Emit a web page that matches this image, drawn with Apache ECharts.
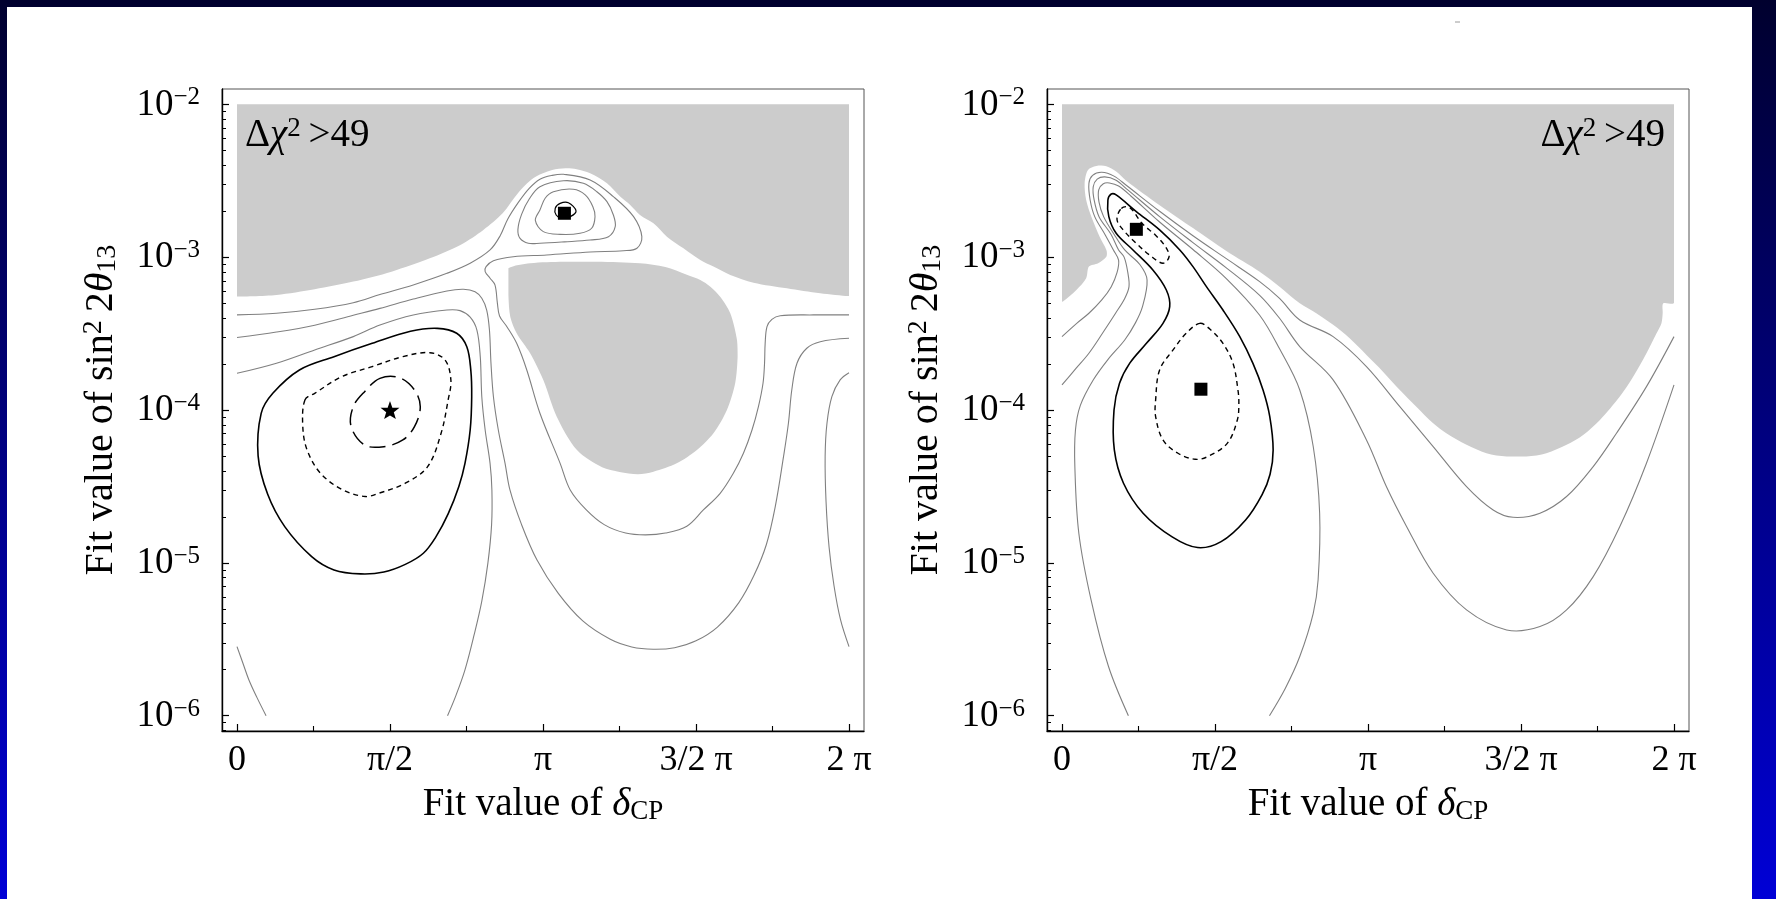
<!DOCTYPE html>
<html>
<head>
<meta charset="utf-8">
<script src="https://cdn.jsdelivr.net/npm/echarts@6/dist/echarts.min.js"></script>
<style>
  html, body { margin: 0; padding: 0; background: #ffffff; }
  #chart { width: 1776px; height: 899px; }
</style>
</head>
<body>
<div id="chart"></div>
<script>
// Fit results in the (δCP, sin²2θ13) plane.
// Every point is [δCP / π, log10(sin²2θ13)].

// ---- axis ticks ----
const deltaLabelTicks = [0, 0.5, 1, 1.5, 2];
const deltaLabels = ['0', 'π/2', 'π', '3/2 π', '2 π'];
const deltaMinorTicks = [0.25, 0.75, 1.25, 1.75];
const decadeTicks = [-6, -5, -4, -3, -2];
const mantissas = [2, 3, 4, 5, 6, 7, 8, 9];

// ---- left panel ----
const vetoUpperL = [[0,-2],[2,-2],[2,-3.254],[1.906,-3.237],[1.797,-3.204],[1.688,-3.167],[1.612,-3.117],[1.557,-3.062],[1.514,-3.019],[1.459,-2.942],[1.405,-2.866],[1.361,-2.779],[1.317,-2.724],[1.285,-2.659],[1.252,-2.604],[1.209,-2.517],[1.154,-2.451],[1.110,-2.425],[1.074,-2.419],[1.030,-2.430],[0.968,-2.484],[0.918,-2.582],[0.868,-2.713],[0.805,-2.822],[0.730,-2.920],[0.630,-3.008],[0.505,-3.095],[0.380,-3.160],[0.254,-3.210],[0.129,-3.247],[0,-3.258]];
const vetoIslandL = [[0.887,-3.073],[0.958,-3.040],[1.067,-3.030],[1.176,-3.030],[1.317,-3.040],[1.400,-3.065],[1.470,-3.115],[1.514,-3.149],[1.547,-3.193],[1.579,-3.259],[1.612,-3.367],[1.634,-3.542],[1.636,-3.651],[1.628,-3.825],[1.601,-4.000],[1.557,-4.152],[1.503,-4.262],[1.437,-4.349],[1.361,-4.404],[1.310,-4.420],[1.250,-4.405],[1.193,-4.375],[1.111,-4.262],[1.045,-4.044],[1.001,-3.804],[0.958,-3.629],[0.914,-3.498],[0.893,-3.390],[0.887,-3.250],[0.887,-3.128]];

const contourBL = [[0,-3.378],[0.129,-3.367],[0.254,-3.341],[0.380,-3.298],[0.467,-3.245],[0.576,-3.182],[0.686,-3.106],[0.762,-3.040],[0.827,-2.953],[0.860,-2.860],[0.885,-2.750],[0.920,-2.640],[0.955,-2.550],[0.990,-2.490],[1.030,-2.465],[1.067,-2.458],[1.154,-2.495],[1.230,-2.604],[1.296,-2.735],[1.323,-2.866],[1.307,-2.942],[1.263,-2.958],[1.154,-2.966],[1.012,-2.986],[0.903,-2.997],[0.838,-3.023],[0.814,-3.062],[0.811,-3.095],[0.827,-3.138],[0.843,-3.182],[0.851,-3.302],[0.858,-3.385],[0.882,-3.455],[0.914,-3.564],[0.947,-3.738],[0.990,-4.021],[1.056,-4.349],[1.089,-4.523],[1.140,-4.650],[1.200,-4.750],[1.270,-4.805],[1.335,-4.817],[1.400,-4.805],[1.470,-4.760],[1.524,-4.654],[1.579,-4.545],[1.622,-4.414],[1.655,-4.283],[1.683,-4.131],[1.704,-3.978],[1.719,-3.825],[1.724,-3.694],[1.726,-3.564],[1.732,-3.455],[1.748,-3.407],[1.775,-3.383],[1.884,-3.378],[2,-3.378]];
const contourCL = [[0,-3.526],[0.129,-3.490],[0.254,-3.445],[0.380,-3.380],[0.467,-3.335],[0.576,-3.274],[0.686,-3.221],[0.740,-3.210],[0.778,-3.226],[0.800,-3.269],[0.816,-3.346],[0.825,-3.477],[0.830,-3.694],[0.838,-3.913],[0.854,-4.131],[0.876,-4.349],[0.892,-4.523],[0.930,-4.750],[0.980,-4.980],[1.050,-5.200],[1.130,-5.380],[1.220,-5.500],[1.290,-5.550],[1.360,-5.565],[1.430,-5.555],[1.500,-5.510],[1.570,-5.420],[1.640,-5.260],[1.690,-5.080],[1.730,-4.880],[1.759,-4.632],[1.786,-4.305],[1.802,-4.087],[1.813,-3.869],[1.830,-3.694],[1.862,-3.596],[1.906,-3.553],[2,-3.531]];
const contourAL = [[0,-3.760],[0.129,-3.694],[0.254,-3.607],[0.380,-3.520],[0.467,-3.444],[0.576,-3.378],[0.686,-3.346],[0.729,-3.350],[0.762,-3.393],[0.784,-3.477],[0.795,-3.651],[0.800,-3.913],[0.811,-4.131],[0.827,-4.349],[0.833,-4.523],[0.832,-4.750],[0.820,-5.000],[0.800,-5.250],[0.775,-5.470],[0.745,-5.700],[0.715,-5.870],[0.688,-6.000]];
const contourEdgeRL = [[2,-3.756],[1.971,-3.803],[1.944,-3.913],[1.928,-4.087],[1.922,-4.305],[1.925,-4.600],[1.935,-4.900],[1.951,-5.150],[1.972,-5.370],[2,-5.548]];
const contourEdgeLL = [[0,-5.548],[0.020,-5.660],[0.039,-5.766],[0.065,-5.880],[0.095,-6.000]];
const peakLoop1L = [[0.975,-2.760],[0.990,-2.692],[1.007,-2.615],[1.034,-2.572],[1.099,-2.556],[1.138,-2.593],[1.163,-2.670],[1.170,-2.735],[1.159,-2.811],[1.121,-2.844],[1.056,-2.851],[1.001,-2.833]];
const peakLoop2L = [[0.990,-2.539],[1.067,-2.500],[1.132,-2.517],[1.176,-2.572],[1.209,-2.637],[1.230,-2.724],[1.236,-2.801],[1.214,-2.866],[1.154,-2.888],[1.070,-2.900],[0.990,-2.909],[0.952,-2.909],[0.925,-2.877],[0.918,-2.820],[0.930,-2.720],[0.955,-2.620]];
const peakCoreL = [[1.040,-2.680],[1.056,-2.648],[1.083,-2.644],[1.108,-2.698],[1.089,-2.735],[1.061,-2.746],[1.043,-2.724]];
const sigma3L = [[0.069,-4.300],[0.079,-4.022],[0.117,-3.891],[0.204,-3.738],[0.317,-3.651],[0.442,-3.564],[0.567,-3.485],[0.655,-3.466],[0.718,-3.498],[0.751,-3.586],[0.764,-3.738],[0.767,-3.913],[0.762,-4.131],[0.745,-4.349],[0.725,-4.500],[0.690,-4.680],[0.650,-4.830],[0.609,-4.937],[0.550,-5.010],[0.480,-5.060],[0.404,-5.072],[0.317,-5.046],[0.244,-4.959],[0.156,-4.763],[0.100,-4.550]];
const sigma2L = [[0.222,-3.934],[0.254,-3.891],[0.342,-3.782],[0.442,-3.716],[0.542,-3.651],[0.630,-3.625],[0.680,-3.673],[0.699,-3.804],[0.690,-3.934],[0.667,-4.152],[0.623,-4.370],[0.550,-4.479],[0.463,-4.545],[0.419,-4.566],[0.346,-4.523],[0.273,-4.414],[0.229,-4.261],[0.215,-4.108]];
const sigma1L = [[0.467,-3.793],[0.530,-3.788],[0.580,-3.869],[0.599,-3.978],[0.580,-4.109],[0.542,-4.196],[0.480,-4.240],[0.417,-4.229],[0.373,-4.109],[0.380,-3.978],[0.417,-3.880]];
const trueValueL = [[0.5, -4.0]];
const clonesL = [[1.07, -2.713]];

// ---- right panel ----
const vetoR = [[0,-2],[2,-2],[2,-3.297],[1.965,-3.302],[1.963,-3.367],[1.959,-3.432],[1.943,-3.498],[1.910,-3.629],[1.867,-3.781],[1.823,-3.912],[1.758,-4.065],[1.703,-4.163],[1.649,-4.228],[1.583,-4.283],[1.518,-4.305],[1.453,-4.305],[1.387,-4.283],[1.322,-4.228],[1.256,-4.152],[1.213,-4.087],[1.158,-3.978],[1.104,-3.869],[1.049,-3.749],[0.995,-3.640],[0.940,-3.531],[0.886,-3.443],[0.831,-3.367],[0.777,-3.302],[0.711,-3.193],[0.646,-3.095],[0.537,-2.960],[0.428,-2.810],[0.319,-2.660],[0.210,-2.500],[0.177,-2.440],[0.145,-2.405],[0.112,-2.404],[0.085,-2.430],[0.074,-2.517],[0.079,-2.626],[0.096,-2.735],[0.123,-2.866],[0.145,-2.953],[0.145,-2.997],[0.118,-3.040],[0.088,-3.062],[0.079,-3.138],[0.047,-3.215],[0.003,-3.291],[0,-3.291]];
const contour1R = [[0,-3.520],[0.050,-3.430],[0.088,-3.367],[0.130,-3.280],[0.161,-3.193],[0.180,-3.100],[0.185,-3.020],[0.168,-2.953],[0.140,-2.850],[0.107,-2.735],[0.092,-2.626],[0.088,-2.517],[0.100,-2.465],[0.130,-2.445],[0.170,-2.470],[0.210,-2.530],[0.319,-2.700],[0.428,-2.860],[0.537,-3.010],[0.646,-3.160],[0.711,-3.270],[0.777,-3.411],[0.886,-3.520],[0.995,-3.716],[1.104,-3.978],[1.213,-4.239],[1.322,-4.501],[1.409,-4.654],[1.474,-4.702],[1.562,-4.675],[1.649,-4.566],[1.736,-4.370],[1.812,-4.152],[1.910,-3.847],[2,-3.520]];
const contour2R = [[0,-3.836],[0.045,-3.730],[0.088,-3.629],[0.135,-3.490],[0.175,-3.367],[0.205,-3.270],[0.219,-3.193],[0.215,-3.100],[0.203,-3.000],[0.185,-2.953],[0.160,-2.850],[0.121,-2.735],[0.105,-2.626],[0.102,-2.540],[0.115,-2.490],[0.140,-2.475],[0.175,-2.495],[0.215,-2.560],[0.319,-2.735],[0.428,-2.905],[0.537,-3.070],[0.646,-3.250],[0.711,-3.400],[0.777,-3.585],[0.886,-3.803],[0.995,-4.196],[1.060,-4.501],[1.126,-4.762],[1.213,-5.068],[1.322,-5.308],[1.453,-5.439],[1.562,-5.417],[1.649,-5.308],[1.736,-5.090],[1.823,-4.762],[1.910,-4.348],[2,-3.836]];
const contour3R = [[0.217,-6.000],[0.152,-5.678],[0.095,-5.242],[0.055,-4.806],[0.042,-4.370],[0.044,-4.131],[0.060,-3.970],[0.102,-3.804],[0.150,-3.670],[0.205,-3.542],[0.240,-3.430],[0.263,-3.324],[0.278,-3.149],[0.255,-3.050],[0.205,-2.953],[0.170,-2.850],[0.136,-2.735],[0.121,-2.640],[0.120,-2.560],[0.135,-2.520],[0.155,-2.515],[0.185,-2.535],[0.225,-2.600],[0.319,-2.770],[0.428,-2.950],[0.537,-3.140],[0.646,-3.380],[0.711,-3.600],[0.777,-3.869],[0.821,-4.239],[0.842,-4.675],[0.837,-5.111],[0.821,-5.330],[0.777,-5.613],[0.730,-5.820],[0.678,-6.000]];
const sigma3R = [[0.150,-2.626],[0.161,-2.587],[0.177,-2.593],[0.243,-2.702],[0.319,-2.822],[0.385,-2.953],[0.428,-3.062],[0.472,-3.193],[0.526,-3.346],[0.581,-3.520],[0.624,-3.695],[0.657,-3.869],[0.679,-4.043],[0.690,-4.261],[0.680,-4.420],[0.654,-4.553],[0.600,-4.719],[0.520,-4.861],[0.443,-4.900],[0.360,-4.830],[0.265,-4.675],[0.201,-4.479],[0.171,-4.261],[0.170,-4.000],[0.188,-3.825],[0.221,-3.695],[0.276,-3.564],[0.330,-3.433],[0.352,-3.324],[0.341,-3.215],[0.297,-3.084],[0.232,-2.953],[0.177,-2.844],[0.153,-2.735]];
const sigma2UpperR = [[0.194,-2.681],[0.221,-2.675],[0.262,-2.780],[0.305,-2.855],[0.338,-2.931],[0.350,-2.997],[0.330,-3.040],[0.286,-2.986],[0.243,-2.910],[0.205,-2.833],[0.180,-2.757]];
const sigma2LowerR = [[0.450,-3.433],[0.483,-3.470],[0.526,-3.564],[0.559,-3.695],[0.575,-3.869],[0.578,-3.960],[0.573,-4.065],[0.540,-4.218],[0.476,-4.305],[0.435,-4.322],[0.379,-4.283],[0.330,-4.196],[0.306,-4.043],[0.306,-3.934],[0.319,-3.738],[0.363,-3.607],[0.406,-3.498]];
const clonesR = [[0.243, -2.818], [0.454, -3.864]];

// ---- drawing ----
const FONT = "'Liberation Serif', 'Times New Roman', serif";
const X_MIN = -0.049, X_MAX = 2.049, Y_MIN = -6.1, Y_MAX = -1.9;

const decadeMinorTicks = [];
for (let n = -7; n <= -2; n++) {
  mantissas.forEach(m => {
    const v = n + Math.log10(m);
    if (v > Y_MIN && v < Y_MAX) decadeMinorTicks.push(v);
  });
}

const GRAY = { stroke: '#808080', lineWidth: 1.1 };
const SOLID = { stroke: '#000000', lineWidth: 1.6 };
const DASH = { stroke: '#000000', lineWidth: 1.4, lineDash: [5, 4] };
const LONGDASH = { stroke: '#000000', lineWidth: 1.5, lineDash: [16, 7] };

function bboxConstraint(points) {
  let x0 = Infinity, y0 = Infinity, x1 = -Infinity, y1 = -Infinity;
  points.forEach(p => { x0 = Math.min(x0, p[0]); y0 = Math.min(y0, p[1]); x1 = Math.max(x1, p[0]); y1 = Math.max(y1, p[1]); });
  return [[x0, y0], [x1, y1]];
}

function region(g, pts) {
  return {
    type: 'custom', xAxisIndex: g * 2, yAxisIndex: g * 2, clip: true, silent: true, z: 1,
    data: pts, encode: { x: 0, y: 1 },
    renderItem(params, api) {
      if (params.dataIndex !== 0) return null;
      const points = pts.map(p => api.coord(p));
      return {
        type: 'polygon',
        shape: { points, smooth: 0.3, smoothConstraint: bboxConstraint(points) },
        style: { fill: '#cccccc', stroke: null }
      };
    }
  };
}

function curve(g, pts, style, closed) {
  return {
    type: 'custom', xAxisIndex: g * 2, yAxisIndex: g * 2, clip: true, silent: true, z: 3,
    data: pts, encode: { x: 0, y: 1 },
    renderItem(params, api) {
      if (params.dataIndex !== 0) return null;
      const points = pts.map(p => api.coord(p));
      return {
        type: closed ? 'polygon' : 'polyline',
        shape: { points, smooth: 0.35 },
        style: Object.assign({ fill: 'none' }, style)
      };
    }
  };
}

const STAR = 'path://M0,-10L2.35,-3.24L9.51,-3.09L3.8,1.24L5.88,8.09L0,4.6L-5.88,8.09L-3.8,1.24L-9.51,-3.09L-2.35,-3.24Z';

function markers(g, pts, symbol, size) {
  return {
    type: 'scatter', xAxisIndex: g * 2, yAxisIndex: g * 2, silent: true, z: 5,
    symbol, symbolSize: size, symbolKeepAspect: true,
    itemStyle: { color: '#000000', opacity: 1 },
    data: pts
  };
}

const labelRich = {
  b: { fontFamily: FONT, fontSize: 37, color: '#000', lineHeight: 38, verticalAlign: 'bottom' },
  s: { fontFamily: FONT, fontSize: 25, color: '#000', lineHeight: 18, verticalAlign: 'top' }
};
function nameRich(size) {
  return {
    i: { fontFamily: FONT, fontSize: size, fontStyle: 'italic', color: '#000', lineHeight: 42 },
    sup: { fontFamily: FONT, fontSize: Math.round(size * 0.7), color: '#000', lineHeight: 20, verticalAlign: 'top' },
    sub: { fontFamily: FONT, fontSize: Math.round(size * 0.7), color: '#000', lineHeight: 18, verticalAlign: 'bottom' }
  };
}

function xAxes(g) {
  return [
    {
      type: 'value', gridIndex: g, min: X_MIN, max: X_MAX, position: 'bottom',
      axisLine: { show: true, onZero: false, lineStyle: { color: '#000', width: 1.4 } },
      axisTick: { show: true, inside: true, length: 7, customValues: deltaLabelTicks, lineStyle: { color: '#000', width: 1.2 } },
      axisLabel: {
        show: true, customValues: deltaLabelTicks, margin: 12,
        fontFamily: FONT, fontSize: 36, color: '#000',
        formatter: v => deltaLabels[deltaLabelTicks.findIndex(t => Math.abs(t - v) < 1e-6)]
      },
      splitLine: { show: false },
      name: 'Fit value of {i|δ}{sub|CP}', nameLocation: 'middle', nameGap: 49,
      nameTextStyle: { fontFamily: FONT, fontSize: 39, color: '#000', lineHeight: 42, rich: nameRich(39) }
    },
    {
      type: 'value', gridIndex: g, min: X_MIN, max: X_MAX, position: 'bottom',
      axisLine: { show: false, onZero: false },
      axisTick: { show: true, inside: true, length: 5, customValues: deltaMinorTicks, lineStyle: { color: '#000', width: 1.1 } },
      axisLabel: { show: false }, splitLine: { show: false }
    }
  ];
}

function yAxes(g) {
  return [
    {
      type: 'value', gridIndex: g, min: Y_MIN, max: Y_MAX, position: 'left',
      axisLine: { show: true, onZero: false, lineStyle: { color: '#000', width: 1.4 } },
      axisTick: { show: true, inside: true, length: 7, customValues: decadeTicks, lineStyle: { color: '#000', width: 1.2 } },
      axisLabel: {
        show: true, customValues: decadeTicks, margin: 22,
        formatter: v => '{b|10}{s|−' + Math.round(-v) + '}',
        rich: labelRich
      },
      splitLine: { show: false },
      name: 'Fit value of sin{sup|2}\u20092{i|θ}{sub|13}', nameLocation: 'middle', nameGap: 100,
      nameTextStyle: { fontFamily: FONT, fontSize: 40, color: '#000', lineHeight: 42, rich: nameRich(40) }
    },
    {
      type: 'value', gridIndex: g, min: Y_MIN, max: Y_MAX, position: 'left',
      axisLine: { show: false, onZero: false },
      axisTick: { show: true, inside: true, length: 4, customValues: decadeMinorTicks, lineStyle: { color: '#000', width: 1 } },
      axisLabel: { show: false }, splitLine: { show: false }
    }
  ];
}

const vetoText = '{n|Δ}{i|χ}{sup|2}{n|\u2009>49}';
const vetoRich = {
  n: { fontFamily: FONT, fontSize: 39, color: '#000', lineHeight: 42 },
  i: { fontFamily: FONT, fontSize: 39, fontStyle: 'italic', color: '#000', lineHeight: 42 },
  sup: { fontFamily: FONT, fontSize: 27, color: '#000', lineHeight: 20, verticalAlign: 'top' }
};

const option = {
  animation: false,
  backgroundColor: {
    type: 'linear', x: 0, y: 0, x2: 0, y2: 1,
    colorStops: [{ offset: 0, color: '#00002e' }, { offset: 1, color: '#0000d6' }]
  },
  graphic: [
    { type: 'rect', z: -10, silent: true, shape: { x: 7, y: 7, width: 1745, height: 892 }, style: { fill: '#ffffff' } },
    { type: 'line', z: 10, silent: true, shape: { x1: 1455, y1: 22, x2: 1460, y2: 22 }, style: { stroke: '#9a9a9a', lineWidth: 1 } },
    { type: 'text', z: 10, silent: true, style: { x: 245, y: 136, text: vetoText, rich: vetoRich, align: 'left', verticalAlign: 'middle' } },
    { type: 'text', z: 10, silent: true, style: { x: 1665, y: 136, text: vetoText, rich: vetoRich, align: 'right', verticalAlign: 'middle' } }
  ],
  grid: [
    { left: 222, top: 89, width: 642, height: 642, show: true, borderColor: '#555555', borderWidth: 1, backgroundColor: 'rgba(0,0,0,0)' },
    { left: 1047, top: 89, width: 642, height: 642, show: true, borderColor: '#555555', borderWidth: 1, backgroundColor: 'rgba(0,0,0,0)' }
  ],
  xAxis: [...xAxes(0), ...xAxes(1)],
  yAxis: [...yAxes(0), ...yAxes(1)],
  series: [
    region(0, vetoUpperL),
    region(0, vetoIslandL),
    curve(0, contourBL, GRAY, false),
    curve(0, contourCL, GRAY, false),
    curve(0, contourAL, GRAY, false),
    curve(0, contourEdgeRL, GRAY, false),
    curve(0, contourEdgeLL, GRAY, false),
    curve(0, peakLoop2L, GRAY, true),
    curve(0, peakLoop1L, GRAY, true),
    curve(0, peakCoreL, { stroke: '#000', lineWidth: 1.2 }, true),
    curve(0, sigma3L, SOLID, true),
    curve(0, sigma2L, DASH, true),
    curve(0, sigma1L, LONGDASH, true),
    markers(0, trueValueL, STAR, 19),
    markers(0, clonesL, 'rect', 13),

    region(1, vetoR),
    curve(1, contour1R, GRAY, false),
    curve(1, contour2R, GRAY, false),
    curve(1, contour3R, GRAY, false),
    curve(1, sigma3R, SOLID, true),
    curve(1, sigma2UpperR, DASH, true),
    curve(1, sigma2LowerR, DASH, true),
    markers(1, clonesR, 'rect', 13)
  ]
};

const chart = echarts.init(document.getElementById('chart'), null, { renderer: 'canvas', width: 1776, height: 899 });
chart.setOption(option);
</script>
</body>
</html>
